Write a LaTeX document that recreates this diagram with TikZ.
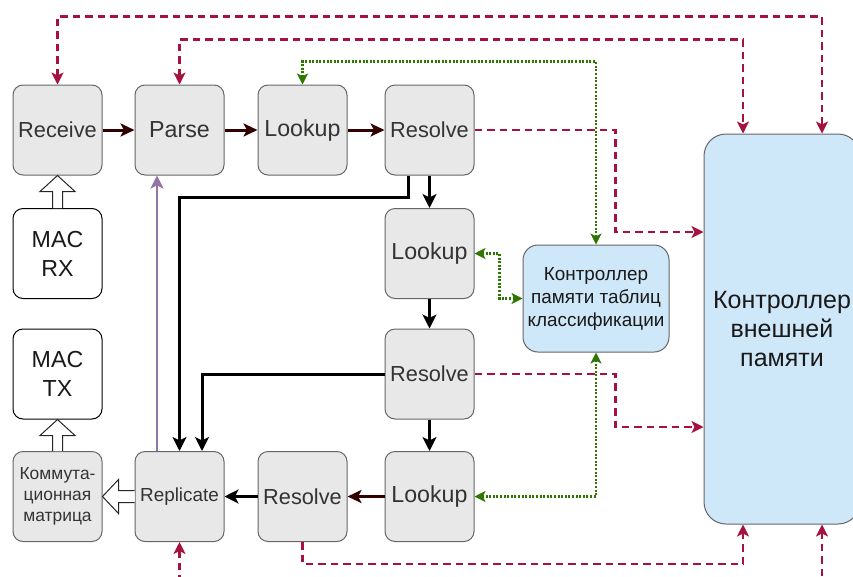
\documentclass[tikz,border=0pt]{standalone}
\usepackage{fontspec}
\setmainfont{Liberation Sans}
\usetikzlibrary{arrows.meta,calc}
\definecolor{boxfill}{HTML}{E8E8E8}
\definecolor{boxdraw}{HTML}{666666}
\definecolor{bluefill}{HTML}{CFE8F9}
\definecolor{dred}{HTML}{A5123F}
\definecolor{brn}{HTML}{330000}
\definecolor{purp}{HTML}{9673A6}
\definecolor{grn}{HTML}{2D7600}
\definecolor{txtg}{HTML}{333333}
\newcommand\szXL{\fontsize{25}{29}\selectfont}
\newcommand\szL{\fontsize{23.2}{29}\selectfont}
\newcommand\szM{\fontsize{21.75}{26}\selectfont}
\newcommand\szS{\fontsize{18.9}{23}\selectfont}
\newcommand\szXS{\fontsize{17.4}{21}\selectfont}
\tikzset{
  gbox/.style={draw=boxdraw, fill=boxfill, rounded corners=10pt, minimum width=89pt,
    minimum height=90pt, text=txtg, align=center, line width=1pt, inner sep=0pt},
  wbox/.style={gbox, fill=white, draw=black, text=black!90},
  bbox/.style={draw=boxdraw, fill=bluefill, align=center, line width=1pt, inner sep=0pt, text=black!90},
  brarrow/.style={draw=brn, line width=3pt, -{Stealth[length=14pt,width=13pt,inset=3.5pt]}},
  blkarrow/.style={draw=black, line width=3pt, -{Stealth[length=14pt,width=14pt,inset=3.5pt]}},
  purparrow/.style={draw=purp, line width=2.4pt, -{Stealth[length=13pt,width=13pt,inset=3pt]}},
  redline/.style={draw=dred, line width=2.4pt, dash pattern=on 7.5pt off 5pt},
  grnline/.style={draw=grn, line width=2.4pt, dash pattern=on 2pt off 1.6pt},
  rtip/.tip={Stealth[length=12pt,width=12pt,inset=3pt]},
  gtip/.tip={Stealth[length=11pt,width=11pt,inset=2.8pt]},
  blockarr/.style={draw=black!85, fill=white, line width=1pt, line join=miter}
}
\begin{document}
\begin{tikzpicture}[x=1pt,y=-1pt]
\useasboundingbox (0,0) rectangle (853,576);
\clip (0,0) rectangle (853,576);
\fill[white] (0,0) rectangle (853,576);

% nodes
\node[gbox, font=\szM] (rec)   at (57.5,130)   {Receive};
\node[gbox, font=\szL] (parse) at (179.5,130)  {Parse};
\node[gbox, font=\szL] (look1) at (302.5,130)  {Lookup};
\node[gbox, font=\szM] (res1)  at (429.5,130)  {Resolve};
\node[wbox, font=\szL] (macrx) at (57.5,253.5) {MAC\\RX};
\node[gbox, font=\szL] (look2) at (429.5,253.5){Lookup};
\node[wbox, font=\szL] (mactx) at (57.5,374)   {MAC\\TX};
\node[gbox, font=\szM] (res2)  at (429.5,374)  {Resolve};
\node[gbox, font=\szXS] (comm) at (57.5,496.5) {Коммута-\\ционная\\матрица};
\node[gbox, font=\szS] (repl)  at (179.5,496.5){Replicate};
\node[gbox, font=\szM] (res3)  at (302.5,496.5){Resolve};
\node[gbox, font=\szL] (look3) at (429.5,496.5){Lookup};
\node[bbox, font=\szS, rounded corners=15pt, minimum width=146pt, minimum height=107pt] (ctl) at (596,298.5)
  {Контроллер\\памяти таблиц\\классификации};
\node[bbox, font=\szXL, rounded corners=22pt, minimum width=156pt, minimum height=390pt] (ext) at (782,329)
  {Контроллер\\внешней\\памяти};

% main data path
\draw[brarrow] (rec) -- (parse);
\draw[brarrow] (parse) -- (look1);
\draw[brarrow] (look1) -- (res1);
\draw[blkarrow] (res1) -- (look2);
\draw[blkarrow] (look2) -- (res2);
\draw[blkarrow] (res2) -- (look3);
\draw[brarrow] (look3) -- (res3);
\draw[blkarrow] (res3) -- (repl);
\draw[blkarrow] ($(res1.south)+(-21.5,0)$) -- ++(0,22) -| (repl.north);
\draw[blkarrow] (res2.west) -| ($(repl.north)+(22.5,0)$);
\draw[purparrow] ($(repl.north)+(-22.5,0)$) -- ($(parse.south)+(-22.5,0)$);

% block arrows
\draw[blockarr] ($(macrx.north)+(-5,0)$) -- ($(rec.south)+(-5,16)$) -- ($(rec.south)+(-17.5,16)$)
  -- (rec.south) -- ($(rec.south)+(17.5,16)$) -- ($(rec.south)+(5,16)$) -- ($(macrx.north)+(5,0)$);
\draw[blockarr] ($(comm.north)+(-5,0)$) -- ($(mactx.south)+(-5,16)$) -- ($(mactx.south)+(-17.5,16)$)
  -- (mactx.south) -- ($(mactx.south)+(17.5,16)$) -- ($(mactx.south)+(5,16)$) -- ($(comm.north)+(5,0)$);
\draw[blockarr] ($(repl.west)+(0,-6)$) -- ($(comm.east)+(16,-6)$) -- ($(comm.east)+(16,-17)$)
  -- (comm.east) -- ($(comm.east)+(16,17)$) -- ($(comm.east)+(16,6)$) -- ($(repl.west)+(0,6)$);

% green dotted: table memory controller
\draw[grnline, gtip-gtip] (look1.north) -- ++(0,-23) -| (ctl.north);
\draw[grnline, gtip-gtip] (look2.east) -- ++(25,0) |- (ctl.west);
\draw[grnline, gtip-gtip] (look3.east) -| (ctl.south);

% red dashed: external memory controller
\draw[redline, rtip-rtip] (rec.north) -- ++(0,-68) -| ($(ext.north)+(40,0)$);
\draw[redline, rtip-rtip] (parse.north) -- ++(0,-45) -| ($(ext.north)+(-39,0)$);
\draw[redline, -rtip] (res1.east) -- ++(141,0) |- ($(ext.west)+(0,-97)$);
\draw[redline, -rtip] (res2.east) -- ++(141,0) |- ($(ext.west)+(0,98)$);
\draw[redline, -rtip] (res3.south) -- ++(0,22) -| ($(ext.south)+(-39,0)$);
\draw[redline, rtip-rtip] (repl.south) -- ++(0,50) -| ($(ext.south)+(40,0)$);
\end{tikzpicture}
\end{document}
